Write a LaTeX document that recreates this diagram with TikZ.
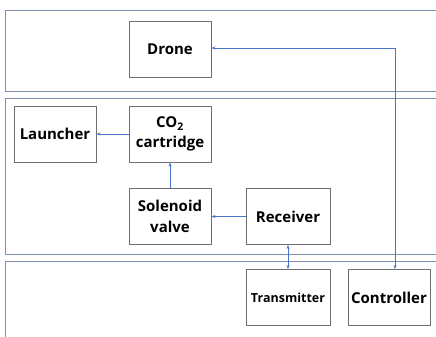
\documentclass[tikz,border=0pt]{standalone}
\usepackage{fontspec}
\setmainfont{Open Sans}
\usetikzlibrary{arrows.meta}
\definecolor{panelc}{RGB}{125,145,175}
\definecolor{boxc}{RGB}{110,110,110}
\definecolor{arrc}{RGB}{75,115,200}
\tikzset{
  panel/.style={draw=panelc, line width=0.9pt},
  blk/.style={draw=boxc, line width=0.9pt, fill=white, minimum width=82pt, minimum height=56pt, inner sep=0pt, align=center, font=\fontsize{15}{20.5}\selectfont\bfseries},
  link/.style={draw=arrc, line width=0.6pt, -{Stealth[length=4pt,width=3pt]}},
  link2/.style={draw=arrc, line width=0.6pt, {Stealth[length=4pt,width=3pt]}-{Stealth[length=4pt,width=3pt]}}
}
\begin{document}
\begin{tikzpicture}[x=1pt,y=-1pt]
\clip (0,0) rectangle (436,337);
\fill[white] (0,0) rectangle (436,337);
\draw[panel] (5,10) rectangle (445,91);
\draw[panel] (5,98) rectangle (445,254);
\draw[panel] (5,261) rectangle (445,345);
\node[blk] (drone) at (170,49) {Drone};
\node[blk] (launch) at (55,134) {Launcher};
\node[blk] (co2) at (170,134) {CO\textsubscript{2}\\cartridge};
\node[blk] (sol) at (170,216.5) {Solenoid\\valve};
\node[blk, minimum width=84pt] (rec) at (288,216.5) {Receiver};
\node[blk, minimum width=84pt, font=\fontsize{12.5}{14}\selectfont\bfseries] (tx) at (288,297.5) {Transmitter};
\node[blk] (ctl) at (389,297.5) {Controller};
\coordinate (corner) at (395,48);
\draw[link] (co2.west) -- (launch.east);
\draw[link] (sol.north) -- (co2.south);
\draw[link] (rec.west) -- (sol.east);
\draw[link2] (rec.south) -- (tx.north);
\draw[link2] (ctl.north -| corner) -- (corner) -- (corner -| drone.east);
\end{tikzpicture}
\end{document}
